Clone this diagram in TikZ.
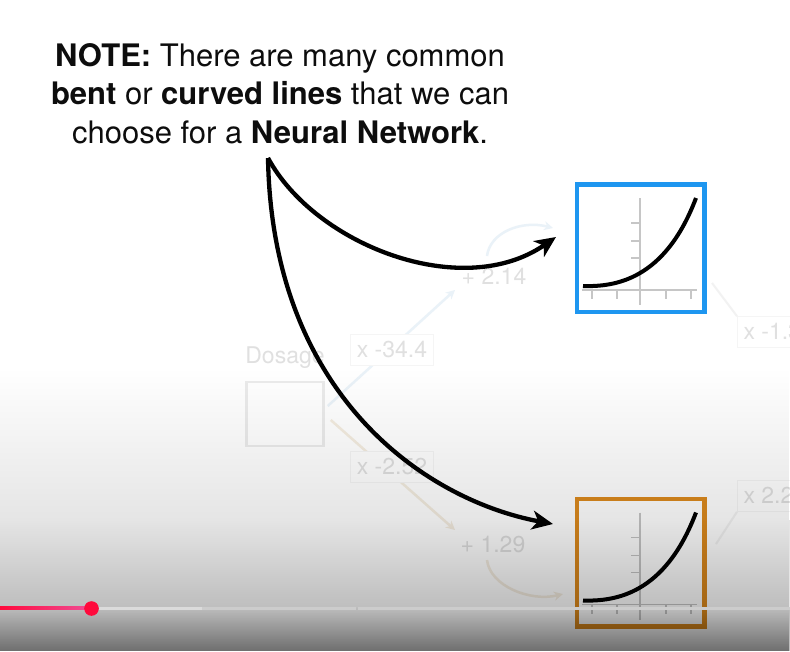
\documentclass[tikz,border=0pt]{standalone}
\usepackage{fontspec}
\setmainfont{TeX Gyre Heros}
\usetikzlibrary{arrows.meta,fadings}
\definecolor{boxblue}{HTML}{1E96F0}
\definecolor{boxorange}{HTML}{DC8A1E}
\definecolor{axisgray}{HTML}{C6C6C6}
\definecolor{ytred}{HTML}{FF0A3C}
\definecolor{ytpink}{HTML}{F04E96}
\definecolor{faintblue}{HTML}{EAF2F8}
\definecolor{fainttan}{HTML}{F4EDE0}
\tikzfading[name=fadedown, top color=transparent!100, bottom color=transparent!0]
\newcommand{\minigraph}{%
  \draw[axisgray, line width=1.4] (-0.5,-50) -- (-0.5,57);
  \draw[axisgray, line width=1.4] (-58.5,42) -- (56.5,42);
  \foreach \ty in {-25,-7,10} \draw[axisgray, line width=1.4] (-9.5,\ty) -- (-0.5,\ty);
  \foreach \tx in {-48.5,-23.5,25.5,50.5} \draw[axisgray, line width=1.4] (\tx,42) -- (\tx,51);
  \draw[black, line width=4] (-57.5,38) .. controls (-25.5,39) and (24.5,32) .. (55.5,-50);
}
\begin{document}
\begin{tikzpicture}[x=1pt,y=-1pt,
  notetext/.style={inner sep=0, align=center, text=black!95,
    font=\fontsize{31}{38.5}\selectfont},
  graphbox/.style={line width=4.5, minimum width=127.5, minimum height=127.5, inner sep=0},
  fainttext/.style={text=black!12, font=\fontsize{23}{23}\selectfont, inner sep=0},
  faintlabel/.style={fainttext, draw=black!4, fill=white, line width=1, inner xsep=6, inner ysep=7},
  faintbox/.style={draw=black!8, line width=2.5, minimum width=77, minimum height=64, inner sep=0},
  faintline/.style={line width=2.5, -{Stealth[length=9,width=9]}},
  bigarrow/.style={line width=4.3, black, -{Stealth[length=21,width=19,inset=6]}}
]
\useasboundingbox (0,0) rectangle (790,651);
\fill[white] (0,0) rectangle (790,651);
\begin{scope}
\clip (0,0) rectangle (790,651);
% faint background network
\node[fainttext] (dosage) at (285,358) {Dosage};
\node[faintbox] (input) at (285,414) {};
\node[fainttext] (b1) at (494,276) {+ 2.14};
\node[fainttext] (b2) at (493,545) {+ 1.29};
\draw[faintline, faintblue] (input.east) ++(3,-8) -- (455,290);
\draw[faintline, fainttan] (input.east) ++(6,6) -- (455,530);
\node[faintlabel] (w1) at (392,350) {x -34.4};
\node[faintlabel] (w2) at (392,467) {x -2.52};
\draw[faintline, faintblue] (487,256) .. controls (490,232) and (522,220) .. (553,228);
\draw[faintline, fainttan] (487,560) .. controls (490,586) and (530,602) .. (563,594);
\coordinate (w3a) at (712,283);
\coordinate (w4a) at (716,544);
\node[faintlabel, anchor=west] (w3) at (737,332) {x -1.30};
\node[faintlabel, anchor=west] (w4) at (737,496) {x 2.28};
\draw[black!5, line width=2] (w3a) -- (w3.north west);
\draw[black!5, line width=2] (w4a) -- (w4.south west);
% activation function boxes
\node[graphbox, draw=boxblue] (blue) at (640.5,248) {};
\node[graphbox, draw=boxorange] (orange) at (640.5,562.5) {};
\begin{scope}[shift={(blue.center)}] \minigraph \end{scope}
\begin{scope}[shift={(orange.center)}] \minigraph \end{scope}
% note and arrows
\node[notetext, anchor=north] (note) at (280,43)
  {{\bfseries NOTE:} There are many common\\
   {\bfseries bent} or {\bfseries curved lines} that we can\\
   choose for a {\bfseries Neural Network}.};
\coordinate (src) at (268,158);
\coordinate (tip1) at (556,237);
\coordinate (tip2) at (553,524);
\draw[bigarrow] (src) .. controls (315,245) and (462,302) .. (tip1);
\draw[bigarrow] (src) .. controls (272,395) and (425,500) .. (tip2);
% video player overlay
\fill[black, fill opacity=0.10, path fading=fadedown] (0,368) rectangle (790,520);
\fill[black, fill opacity=0.10] (0,520) rectangle (790,651);
\fill[black, fill opacity=0.17, path fading=fadedown] (0,520) rectangle (790,607);
\fill[black, fill opacity=0.17] (0,607) rectangle (790,651);
\fill[black, fill opacity=0.42, path fading=fadedown] (0,607) rectangle (790,651);
% progress bar
\fill[black!14] (99,606.5) rectangle (202,609.5);
\fill[black!20] (202,606.5) rectangle (356,609.5);
\fill[black!20] (358,606.5) rectangle (790,609.5);
\shade[left color=ytred, right color=ytpink] (0,606.5) rectangle (91,609.5);
\fill[ytred] (91.5,608.5) circle (7.3);
\end{scope}
\end{tikzpicture}
\end{document}
